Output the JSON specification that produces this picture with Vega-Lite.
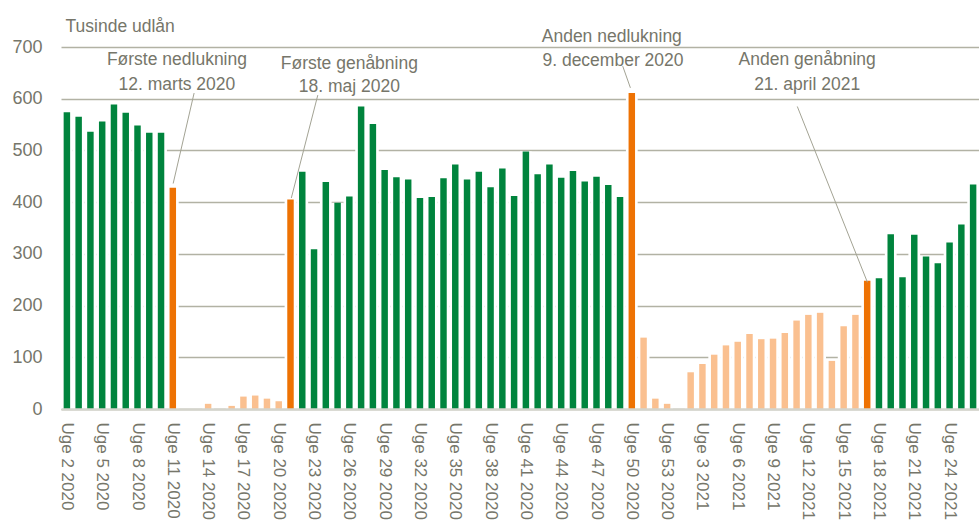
{
  "$schema": "https://vega.github.io/schema/vega-lite/v6.json",
  "autosize": "none",
  "width": 918,
  "height": 362,
  "padding": {"left": 61, "top": 47, "right": 0, "bottom": 115},
  "background": "white",
  "config": {
    "view": {"stroke": null},
    "font": "Liberation Sans, Arial, sans-serif"
  },
  "datasets": {
    "uger": [
      {"uge": "Uge 2 2020", "v": 574, "p": "g"},
      {"uge": "Uge 3 2020", "v": 565, "p": "g"},
      {"uge": "Uge 4 2020", "v": 536, "p": "g"},
      {"uge": "Uge 5 2020", "v": 556, "p": "g"},
      {"uge": "Uge 6 2020", "v": 589, "p": "g"},
      {"uge": "Uge 7 2020", "v": 573, "p": "g"},
      {"uge": "Uge 8 2020", "v": 548, "p": "g"},
      {"uge": "Uge 9 2020", "v": 534, "p": "g"},
      {"uge": "Uge 10 2020", "v": 534, "p": "g"},
      {"uge": "Uge 11 2020", "v": 428, "p": "o"},
      {"uge": "Uge 12 2020", "v": 0, "p": "l"},
      {"uge": "Uge 13 2020", "v": 0, "p": "l"},
      {"uge": "Uge 14 2020", "v": 10, "p": "l"},
      {"uge": "Uge 15 2020", "v": 0, "p": "l"},
      {"uge": "Uge 16 2020", "v": 6, "p": "l"},
      {"uge": "Uge 17 2020", "v": 24, "p": "l"},
      {"uge": "Uge 18 2020", "v": 26, "p": "l"},
      {"uge": "Uge 19 2020", "v": 20, "p": "l"},
      {"uge": "Uge 20 2020", "v": 15, "p": "l"},
      {"uge": "Uge 21 2020", "v": 405, "p": "o"},
      {"uge": "Uge 22 2020", "v": 459, "p": "g"},
      {"uge": "Uge 23 2020", "v": 309, "p": "g"},
      {"uge": "Uge 24 2020", "v": 439, "p": "g"},
      {"uge": "Uge 25 2020", "v": 399, "p": "g"},
      {"uge": "Uge 26 2020", "v": 411, "p": "g"},
      {"uge": "Uge 27 2020", "v": 585, "p": "g"},
      {"uge": "Uge 28 2020", "v": 551, "p": "g"},
      {"uge": "Uge 29 2020", "v": 462, "p": "g"},
      {"uge": "Uge 30 2020", "v": 448, "p": "g"},
      {"uge": "Uge 31 2020", "v": 444, "p": "g"},
      {"uge": "Uge 32 2020", "v": 408, "p": "g"},
      {"uge": "Uge 33 2020", "v": 410, "p": "g"},
      {"uge": "Uge 34 2020", "v": 446, "p": "g"},
      {"uge": "Uge 35 2020", "v": 473, "p": "g"},
      {"uge": "Uge 36 2020", "v": 444, "p": "g"},
      {"uge": "Uge 37 2020", "v": 459, "p": "g"},
      {"uge": "Uge 38 2020", "v": 429, "p": "g"},
      {"uge": "Uge 39 2020", "v": 465, "p": "g"},
      {"uge": "Uge 40 2020", "v": 412, "p": "g"},
      {"uge": "Uge 41 2020", "v": 498, "p": "g"},
      {"uge": "Uge 42 2020", "v": 454, "p": "g"},
      {"uge": "Uge 43 2020", "v": 473, "p": "g"},
      {"uge": "Uge 44 2020", "v": 447, "p": "g"},
      {"uge": "Uge 45 2020", "v": 460, "p": "g"},
      {"uge": "Uge 46 2020", "v": 440, "p": "g"},
      {"uge": "Uge 47 2020", "v": 449, "p": "g"},
      {"uge": "Uge 48 2020", "v": 433, "p": "g"},
      {"uge": "Uge 49 2020", "v": 410, "p": "g"},
      {"uge": "Uge 50 2020", "v": 611, "p": "o"},
      {"uge": "Uge 51 2020", "v": 138, "p": "l"},
      {"uge": "Uge 52 2020", "v": 20, "p": "l"},
      {"uge": "Uge 53 2020", "v": 10, "p": "l"},
      {"uge": "Uge 1 2021", "v": 0, "p": "l"},
      {"uge": "Uge 2 2021", "v": 71, "p": "l"},
      {"uge": "Uge 3 2021", "v": 87, "p": "l"},
      {"uge": "Uge 4 2021", "v": 105, "p": "l"},
      {"uge": "Uge 5 2021", "v": 123, "p": "l"},
      {"uge": "Uge 6 2021", "v": 130, "p": "l"},
      {"uge": "Uge 7 2021", "v": 145, "p": "l"},
      {"uge": "Uge 8 2021", "v": 135, "p": "l"},
      {"uge": "Uge 9 2021", "v": 136, "p": "l"},
      {"uge": "Uge 10 2021", "v": 147, "p": "l"},
      {"uge": "Uge 11 2021", "v": 171, "p": "l"},
      {"uge": "Uge 12 2021", "v": 182, "p": "l"},
      {"uge": "Uge 13 2021", "v": 186, "p": "l"},
      {"uge": "Uge 14 2021", "v": 93, "p": "l"},
      {"uge": "Uge 15 2021", "v": 160, "p": "l"},
      {"uge": "Uge 16 2021", "v": 182, "p": "l"},
      {"uge": "Uge 17 2021", "v": 248, "p": "o"},
      {"uge": "Uge 18 2021", "v": 253, "p": "g"},
      {"uge": "Uge 19 2021", "v": 338, "p": "g"},
      {"uge": "Uge 20 2021", "v": 255, "p": "g"},
      {"uge": "Uge 21 2021", "v": 337, "p": "g"},
      {"uge": "Uge 22 2021", "v": 295, "p": "g"},
      {"uge": "Uge 23 2021", "v": 282, "p": "g"},
      {"uge": "Uge 24 2021", "v": 322, "p": "g"},
      {"uge": "Uge 25 2021", "v": 357, "p": "g"},
      {"uge": "Uge 26 2021", "v": 434, "p": "g"}
    ],
    "ann": [
      {"t": "Første nedlukning", "xi": 9.35, "yv": 674},
      {"t": "12. marts 2020", "xi": 9.35, "yv": 627},
      {"t": "Første genåbning", "xi": 24.0, "yv": 668},
      {"t": "18. maj 2020", "xi": 24.0, "yv": 622},
      {"t": "Anden nedlukning", "xi": 46.3, "yv": 720},
      {"t": "9. december  2020", "xi": 46.4, "yv": 672},
      {"t": "Anden genåbning", "xi": 62.9, "yv": 674},
      {"t": "21. april 2021", "xi": 62.9, "yv": 626}
    ],
    "lead": [
      {"x1": 10.81, "y1": 611, "x2": 9.03, "y2": 436},
      {"x1": 21.32, "y1": 607, "x2": 19.07, "y2": 408},
      {"x1": 47.23, "y1": 663, "x2": 47.88, "y2": 621},
      {"x1": 62.06, "y1": 585, "x2": 68.02, "y2": 245}
    ]
  },
  "layer": [
    {
      "data": {"name": "uger"},
      "layer": [
        {
          "mark": {"type": "bar", "color": "white", "width": {"band": 1.82}},
          "encoding": {
            "x": {
              "field": "uge",
              "type": "nominal",
              "sort": null,
              "scale": {"paddingInner": 0.45, "paddingOuter": 0.225},
              "axis": {
                "title": null,
                "zindex": 1,
                "values": ["Uge 2 2020", "Uge 5 2020", "Uge 8 2020", "Uge 11 2020", "Uge 14 2020", "Uge 17 2020", "Uge 20 2020", "Uge 23 2020", "Uge 26 2020", "Uge 29 2020", "Uge 32 2020", "Uge 35 2020", "Uge 38 2020", "Uge 41 2020", "Uge 44 2020", "Uge 47 2020", "Uge 50 2020", "Uge 53 2020", "Uge 3 2021", "Uge 6 2021", "Uge 9 2021", "Uge 12 2021", "Uge 15 2021", "Uge 18 2021", "Uge 21 2021", "Uge 24 2021"],
                "labelAngle": 90,
                "labelFontSize": 17,
                "labelColor": "#76766A",
                "labelPadding": 13,
                "labelOverlap": false,
                "labelBound": false,
                "ticks": false,
                "grid": false,
                "domainColor": "#D4D4CC",
                "domainWidth": 2.5
              }
            },
            "y": {
              "field": "v",
              "type": "quantitative",
              "scale": {"domain": [0, 700], "nice": false},
              "axis": {
                "values": [0, 100, 200, 300, 400, 500, 600, 700],
                "title": "Tusinde udlån",
                "titleAngle": 0,
                "titleAlign": "left",
                "titleBaseline": "middle",
                "titleX": 4,
                "titleY": -21,
                "titleFontSize": 17.5,
                "titleFontWeight": "normal",
                "titleColor": "#76766A",
                "labelFontSize": 18,
                "labelColor": "#76766A",
                "labelPadding": 19,
                "ticks": false,
                "domain": false,
                "grid": true,
                "gridColor": "#B2B2A4",
                "gridWidth": 1.3
              }
            }
          }
        },
        {
          "mark": {"type": "bar"},
          "encoding": {
            "x": {"field": "uge", "type": "nominal", "sort": null},
            "y": {"field": "v", "type": "quantitative"},
            "color": {
              "field": "p",
              "type": "nominal",
              "scale": {"domain": ["g", "o", "l"], "range": ["#00843D", "#EE7203", "#FAC090"]},
              "legend": null
            }
          }
        }
      ]
    },
    {
      "layer": [
        {
          "data": {"name": "lead"},
          "mark": {"type": "rule", "color": "#A3A394", "strokeWidth": 1},
          "encoding": {
            "x": {"field": "x1", "type": "quantitative", "scale": {"domain": [-0.5, 77.5], "nice": false, "zero": false}, "axis": null},
            "x2": {"field": "x2"},
            "y": {"field": "y1", "type": "quantitative", "axis": null},
            "y2": {"field": "y2"}
          }
        },
        {
          "data": {"name": "ann"},
          "mark": {"type": "text", "fontSize": 17.5, "color": "#76766A", "align": "center", "baseline": "middle"},
          "encoding": {
            "x": {"field": "xi", "type": "quantitative", "axis": null},
            "y": {"field": "yv", "type": "quantitative", "axis": null},
            "text": {"field": "t"}
          }
        }
      ]
    }
  ],
  "resolve": {"scale": {"x": "independent"}, "axis": {"y": "independent"}}
}
